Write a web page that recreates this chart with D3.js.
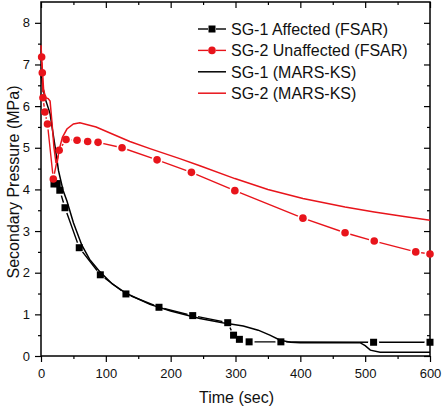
<!DOCTYPE html>
<html><head><meta charset="utf-8">
<script src="https://cdn.jsdelivr.net/npm/d3@7"></script>
<style>body{margin:0;background:#fff}svg{display:block}text{font-family:"Liberation Sans",Arial,sans-serif}</style>
</head><body><svg id="c" width="443" height="414"></svg>
<script>
// ---- data ----
const sg1FsarT = [20, 25, 29, 37, 59, 91.5, 131, 182, 234, 288, 297, 306, 321, 370, 513, 600];
const sg1FsarP = [4.13, 4.14, 3.98, 3.56, 2.6, 1.95, 1.49, 1.17, 0.97, 0.8, 0.5, 0.4, 0.34, 0.34, 0.33, 0.33];
const sg2FsarT = [1, 2, 3, 6, 10, 19, 28, 38.6, 55.6, 72, 88, 125, 179, 232, 299, 404, 469, 514, 578, 600];
const sg2FsarP = [7.18, 6.8, 6.2, 5.86, 5.57, 4.25, 4.94, 5.2, 5.18, 5.15, 5.13, 5.0, 4.71, 4.41, 3.97, 3.31, 2.96, 2.76, 2.5, 2.45];
const sg1MarsT = [0, 3, 6, 9, 14, 18, 22, 27, 34, 40, 50, 63, 75, 91, 110, 132, 168, 200, 245, 280, 312, 335, 353, 369, 385, 400, 492, 500, 508, 523, 600];
const sg1MarsP = [6.75, 6.45, 6.2, 6.06, 5.82, 5.4, 5.0, 4.45, 3.98, 3.72, 3.2, 2.66, 2.32, 2.02, 1.73, 1.5, 1.24, 1.08, 0.9, 0.8, 0.72, 0.62, 0.5, 0.38, 0.33, 0.32, 0.32, 0.25, 0.14, 0.09, 0.09];
const sg2MarsT = [0, 2, 4, 7, 11, 14, 17, 20, 23, 25, 28, 33, 40, 50, 60, 85, 110, 137, 168, 214, 245, 299, 350, 404, 469, 514, 560, 600];
const sg2MarsP = [7.46, 6.9, 6.4, 6.2, 6.18, 6.12, 5.6, 5.0, 4.65, 4.65, 4.95, 5.25, 5.45, 5.57, 5.6, 5.5, 5.33, 5.15, 4.98, 4.74, 4.57, 4.26, 4.0, 3.78, 3.58, 3.46, 3.35, 3.26];
const xTicks = [0, 100, 200, 300, 400, 500, 600];
const yTicks = [0, 1, 2, 3, 4, 5, 6, 7, 8];
const legendLabels = ["SG-1 Affected (FSAR)", "SG-2 Unaffected (FSAR)", "SG-1 (MARS-KS)", "SG-2 (MARS-KS)"];

const RED = "#e8141b";
const svg = d3.select("#c");
const L = 41, R = 430, T = 2, B = 356;
const x = d3.scaleLinear([0, 600], [L, R]);
const y = d3.scaleLinear([0, 8.5], [B, T]);
const zip = (t, p) => t.map((v, i) => [v, p[i]]);

const xMinor = d3.range(50, 600, 100);
const yMinor = d3.range(0.5, 8.5, 1);

function styleAxis(g) {
  g.select(".domain").remove();
  g.selectAll("line").attr("stroke", "#000").attr("stroke-width", 1.2);
  g.selectAll("text").attr("font-size", 13).attr("fill", "#111")
    .attr("font-family", '"Liberation Sans",Arial,sans-serif');
}
// bottom
svg.append("g").attr("transform", `translate(0,${B})`)
  .call(d3.axisBottom(x).tickValues(xTicks).tickSize(6).tickPadding(7)).call(styleAxis);
svg.append("g").attr("transform", `translate(0,${B})`)
  .call(d3.axisBottom(x).tickValues(xMinor).tickSize(3).tickFormat("")).call(styleAxis);
// top
svg.append("g").attr("transform", `translate(0,${T})`)
  .call(d3.axisTop(x).tickValues(xTicks).tickSize(-6).tickFormat("")).call(styleAxis);
svg.append("g").attr("transform", `translate(0,${T})`)
  .call(d3.axisTop(x).tickValues(xMinor).tickSize(-3).tickFormat("")).call(styleAxis);
// left
svg.append("g").attr("transform", `translate(${L},0)`)
  .call(d3.axisLeft(y).tickValues(yTicks).tickSize(6).tickPadding(5)).call(styleAxis);
svg.append("g").attr("transform", `translate(${L},0)`)
  .call(d3.axisLeft(y).tickValues(yMinor).tickSize(3).tickFormat("")).call(styleAxis);
// right
svg.append("g").attr("transform", `translate(${R},0)`)
  .call(d3.axisRight(y).tickValues(yTicks).tickSize(-6).tickFormat("")).call(styleAxis);
svg.append("g").attr("transform", `translate(${R},0)`)
  .call(d3.axisRight(y).tickValues(yMinor).tickSize(-3).tickFormat("")).call(styleAxis);

// frame
svg.append("rect").attr("x", L).attr("y", T).attr("width", R - L).attr("height", B - T)
  .attr("fill", "none").attr("stroke", "#000").attr("stroke-width", 1.5);

const line = d3.line().x(d => x(d[0])).y(d => y(d[1]));
const defs = svg.append("defs");

function fsarSeries(data, color, shape, id) {
  const m = defs.append("mask").attr("id", id).attr("maskUnits", "userSpaceOnUse")
    .attr("x", 0).attr("y", 0).attr("width", 443).attr("height", 414);
  m.append("rect").attr("width", 443).attr("height", 414).attr("fill", "#fff");
  m.selectAll("circle").data(data).join("circle")
    .attr("cx", d => x(d[0])).attr("cy", d => y(d[1])).attr("r", 5.5).attr("fill", "#000");
  svg.append("path").datum(data).attr("d", line).attr("fill", "none")
    .attr("stroke", color).attr("stroke-width", 1.4).attr("mask", `url(#${id})`);
  const g = svg.append("g");
  if (shape === "square") {
    g.selectAll("rect").data(data).join("rect")
      .attr("x", d => x(d[0]) - 3.5).attr("y", d => y(d[1]) - 3.5)
      .attr("width", 7).attr("height", 7).attr("fill", color);
  } else {
    g.selectAll("circle").data(data).join("circle")
      .attr("cx", d => x(d[0])).attr("cy", d => y(d[1])).attr("r", 3.8).attr("fill", color);
  }
}
function marsSeries(data, color) {
  svg.append("path").datum(data).attr("d", line).attr("fill", "none")
    .attr("stroke", color).attr("stroke-width", 1.5);
}

marsSeries(zip(sg1MarsT, sg1MarsP), "#000");
fsarSeries(zip(sg1FsarT, sg1FsarP), "#000", "square", "m1");
marsSeries(zip(sg2MarsT, sg2MarsP), RED);
fsarSeries(zip(sg2FsarT, sg2FsarP), RED, "circle", "m2");

// legend
const legColors = ["#000", RED, "#000", RED];
const leg = svg.append("g");
legendLabels.forEach((lab, i) => {
  const cy = 29 + i * 21.4;
  const c = legColors[i];
  if (i < 2) {
    leg.append("line").attr("x1", 198).attr("x2", 208).attr("y1", cy).attr("y2", cy).attr("stroke", c).attr("stroke-width", 1.4);
    leg.append("line").attr("x1", 216).attr("x2", 226).attr("y1", cy).attr("y2", cy).attr("stroke", c).attr("stroke-width", 1.4);
    if (i === 0) leg.append("rect").attr("x", 208.5).attr("y", cy - 3.5).attr("width", 7).attr("height", 7).attr("fill", c);
    else leg.append("circle").attr("cx", 212).attr("cy", cy).attr("r", 3.8).attr("fill", c);
  } else {
    leg.append("line").attr("x1", 198).attr("x2", 226).attr("y1", cy).attr("y2", cy).attr("stroke", c).attr("stroke-width", 1.5);
  }
  leg.append("text").attr("x", 231).attr("y", cy + 5.7).attr("font-size", 16).attr("fill", "#111").text(lab);
});

// axis titles
svg.append("text").attr("x", (L + R) / 2 + 1).attr("y", 403).attr("text-anchor", "middle")
  .attr("font-size", 16).attr("fill", "#111").text("Time (sec)");
svg.append("text").attr("transform", `translate(19,${182}) rotate(-90)`).attr("text-anchor", "middle")
  .attr("font-size", 16).attr("fill", "#111").text("Secondary Pressure (MPa)");
</script></body></html>
